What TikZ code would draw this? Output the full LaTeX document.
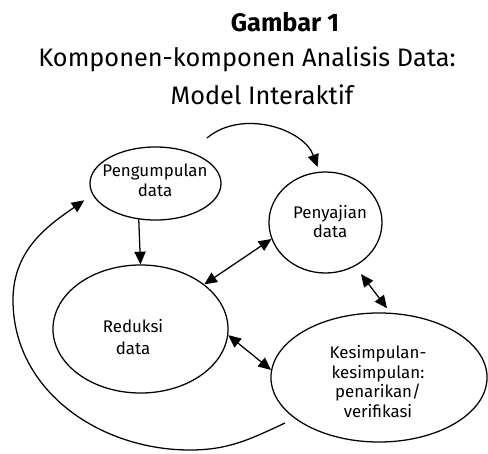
\documentclass[tikz,border=0pt]{standalone}
\usepackage{fontspec}
\setmainfont{Fira Sans}
\usepackage{tikz}
\usetikzlibrary{shapes.geometric}
\usetikzlibrary{arrows.meta}

\begin{document}
\begin{tikzpicture}[->,>={Triangle[length=9pt,width=8pt]},line width=0.9pt,
                    x=0.025cm,y=-0.025cm]
\tikzstyle{every node}=[text=black]
\tikzstyle{lingkaran}=[ellipse,draw=black,inner sep=0pt]
\tikzstyle{isi}=[align=center,inner sep=0pt,font=\fontsize{12pt}{14pt}\selectfont]
\tikzstyle{judul}=[anchor=base,inner sep=0pt,font=\fontsize{18pt}{22pt}\selectfont]

  \useasboundingbox (0,0) rectangle (488,454);

  % judul gambar
  \node[judul,font=\fontsize{18pt}{22pt}\selectfont\bfseries] (gambar) at (285,31) {Gambar 1};
  \node[judul] (komponen) at (247,66) {Komponen-komponen Analisis Data:};
  \node[judul] (model)    at (262,104) {Model Interaktif};

  % empat komponen
  \node[lingkaran,minimum width=3.275cm,minimum height=1.825cm] (kumpul)  at (155.5,183.5) {};
  \node[isi] (t-kumpul)  at (155,180.5) {Pengumpulan\\data};

  \node[lingkaran,minimum width=4.375cm,minimum height=3.2cm]   (reduksi) at (140.5,329) {};
  \node[isi,font=\fontsize{12pt}{15.5pt}\selectfont] (t-reduksi) at (133,337) {Reduksi\\data};

  \node[lingkaran,minimum width=2.825cm,minimum height=2.525cm] (sajian)  at (325.5,222.5) {};
  \node[isi] (t-sajian)  at (330,221.5) {Penyajian\\data};

  \node[lingkaran,minimum width=5.4cm,minimum height=3.225cm]   (simpul)  at (379,377.5) {};
  \node[isi] (t-simpul)  at (378,381.5) {Kesimpulan-\\kesimpulan:\\penarikan/\\verifikasi};

  % titik bantu
  \coordinate (awal)  at (207,138);
  \coordinate (ekor)  at (285,423);
  \coordinate (bawah) at (190,450);
  \coordinate (kiri)  at (13,300);

  % panah
  \draw (kumpul.245) -- (reduksi.north);
  \draw[<->] (reduksi.35) -- (sajian.197);
  \draw[<->,shorten <=7pt,shorten >=4pt] (sajian.-56) -- (simpul.80);
  \draw[<->] (reduksi.-4) -- (simpul.176);
  \draw[shorten >=3.5pt] (awal) to[out=40,in=110] (sajian.97);
  \draw[shorten >=7pt] (ekor) to[out=205,in=0] (bawah)
       to[out=180,in=270] (kiri) to[out=90,in=215] (kumpul.190);

\end{tikzpicture}
\end{document}
